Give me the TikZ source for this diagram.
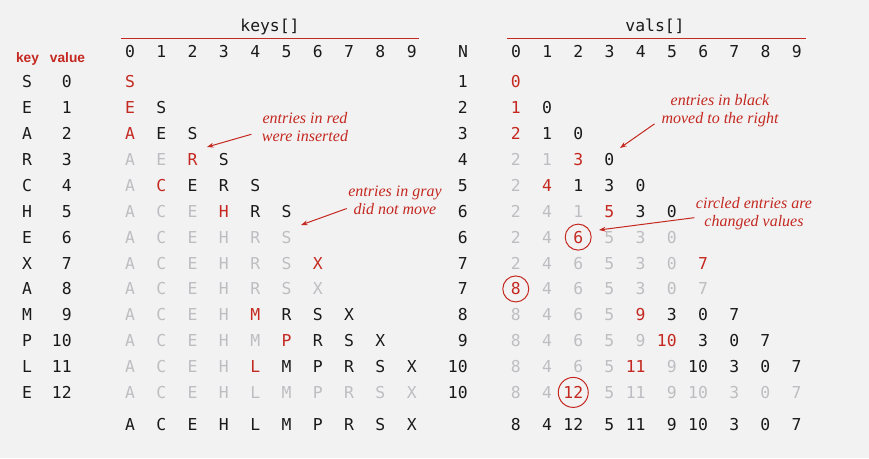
\documentclass[tikz,border=0pt]{standalone}
\usepackage{fontspec}
\usetikzlibrary{arrows.meta}
\newfontfamily\gridfont{DejaVu Sans Mono}
\newfontfamily\headfont{Liberation Sans}
\newfontfamily\notefont{Liberation Serif}
\definecolor{cr}{RGB}{196,40,32}
\definecolor{cb}{RGB}{26,26,26}
\definecolor{cg}{RGB}{190,190,194}
\definecolor{paper}{RGB}{242,242,242}

\tikzset{
  cell/.style={font=\gridfont\fontsize{12.3}{14}\selectfont, text=cb, inner sep=0pt, anchor=base},
  num/.style={cell, anchor=base east},
  head/.style={font=\headfont\bfseries\fontsize{10.3}{12}\selectfont, text=cr, inner sep=0pt, anchor=base},
  note/.style={font=\notefont\itshape\fontsize{12}{13.5}\selectfont, text=cr, align=center, inner sep=1pt},
  notearrow/.style={draw=cr, line width=0.75pt, -{Stealth[length=5pt,width=3.6pt]}},
  ring/.style={circle, draw=cr, line width=0.75pt, inner sep=0pt},
  rule/.style={draw=cr, line width=0.8pt},
}

\begin{document}
\begin{tikzpicture}[x=0.75pt,y=0.75pt,yscale=-1,xscale=1]
\useasboundingbox (0,0) rectangle (869,458);
\fill[paper] (0,0) rectangle (869,458);

% Titles
\node[cell] (keys) at (270,31.5) {keys[]};
\node[cell] (vals) at (655,31.5) {vals[]};
\draw[rule] (121,38.3) -- (419,38.3);
\draw[rule] (507,38.3) -- (806,38.3);

% Headers
\node[head] (hkey) at (27.5,62) {key};
\node[head] (hval) at (67.5,62) {value};
\node[cell] (hn) at (463,57) {N};
\foreach \c in {0,...,9} {
  \node[cell] (ki-\c) at ({130+\c*31.3},57) {\c};
  \node[cell] (vi-\c) at ({516+\c*31.2},57) {\c};
}

% Input pairs and N
\foreach \k/\v/\n [count=\r] in {S/0/1,E/1/2,A/2/3,R/3/4,C/4/5,H/5/6,E/6/6,X/7/7,A/8/7,M/9/8,P/10/9,L/11/10,E/12/10} {
  \node[cell] (key-\r) at (27,{87.7+(\r-1)*25.9}) {\k};
  \node[num] (val-\r) at (72,{87.7+(\r-1)*25.9}) {\v};
  \node[num] (n-\r) at (468,{87.7+(\r-1)*25.9}) {\n};
}

% keys[] trace
\foreach \row [count=\r] in {
  {S/r},
  {E/r,S/b},
  {A/r,E/b,S/b},
  {A/g,E/g,R/r,S/b},
  {A/g,C/r,E/b,R/b,S/b},
  {A/g,C/g,E/g,H/r,R/b,S/b},
  {A/g,C/g,E/g,H/g,R/g,S/g},
  {A/g,C/g,E/g,H/g,R/g,S/g,X/r},
  {A/g,C/g,E/g,H/g,R/g,S/g,X/g},
  {A/g,C/g,E/g,H/g,M/r,R/b,S/b,X/b},
  {A/g,C/g,E/g,H/g,M/g,P/r,R/b,S/b,X/b},
  {A/g,C/g,E/g,H/g,L/r,M/b,P/b,R/b,S/b,X/b},
  {A/g,C/g,E/g,H/g,L/g,M/g,P/g,R/g,S/g,X/g}} {
  \foreach \t/\s [count=\c from 0] in \row
    \node[cell, text=c\s] (k-\r-\c) at ({130+\c*31.3},{87.7+(\r-1)*25.9}) {\t};
}
\foreach \t [count=\c from 0] in {A,C,E,H,L,M,P,R,S,X}
  \node[cell] (k-f-\c) at ({130+\c*31.3},430) {\t};

% vals[] trace
\foreach \row [count=\r] in {
  {0/r},
  {1/r,0/b},
  {2/r,1/b,0/b},
  {2/g,1/g,3/r,0/b},
  {2/g,4/r,1/b,3/b,0/b},
  {2/g,4/g,1/g,5/r,3/b,0/b},
  {2/g,4/g,6/r,5/g,3/g,0/g},
  {2/g,4/g,6/g,5/g,3/g,0/g,7/r},
  {8/r,4/g,6/g,5/g,3/g,0/g,7/g},
  {8/g,4/g,6/g,5/g,9/r,3/b,0/b,7/b},
  {8/g,4/g,6/g,5/g,9/g,10/r,3/b,0/b,7/b},
  {8/g,4/g,6/g,5/g,11/r,9/g,10/b,3/b,0/b,7/b},
  {8/g,4/g,12/r,5/g,11/g,9/g,10/g,3/g,0/g,7/g}} {
  \foreach \t/\s [count=\c from 0] in \row
    \node[num, text=c\s] (v-\r-\c) at ({521+\c*31.2},{87.7+(\r-1)*25.9}) {\t};
}
\foreach \t [count=\c from 0] in {8,4,12,5,11,9,10,3,0,7}
  \node[num] (v-f-\c) at ({521+\c*31.2},430) {\t};

% Circled entries
\node[ring, minimum size=19.5pt] (o-6) at (v-7-2.center) {};
\node[ring, minimum size=19.5pt] (o-8) at (v-9-0.center) {};
\node[ring, minimum size=22.5pt] (o-12) at (v-13-2.center) {};

% Text Node
\node[note] (nred) at (305,127) {entries in red\\were inserted};
% Text Node
\node[note] (ngray) at (395,200) {entries in gray\\did not move};
% Text Node
\node[note] (nblack) at (720,110.5) {entries in black\\moved to the right};
% Text Node
\node[note] (ncirc) at (754,213.5) {circled entries are\\changed values};

% Arrows
\coordinate (tred) at (207,147);
\coordinate (tgray) at (301,225);
\coordinate (tblack) at (620,148);
\coordinate (tcirc) at (599,230);
\draw[notearrow, shorten <=7pt] (nred.186) -- (tred);
\draw[notearrow] (ngray.190) -- (tgray);
\draw[notearrow, shorten <=5pt] (nblack.189) -- (tblack);
\draw[notearrow] (ncirc.184) -- (tcirc);

\end{tikzpicture}
\end{document}
